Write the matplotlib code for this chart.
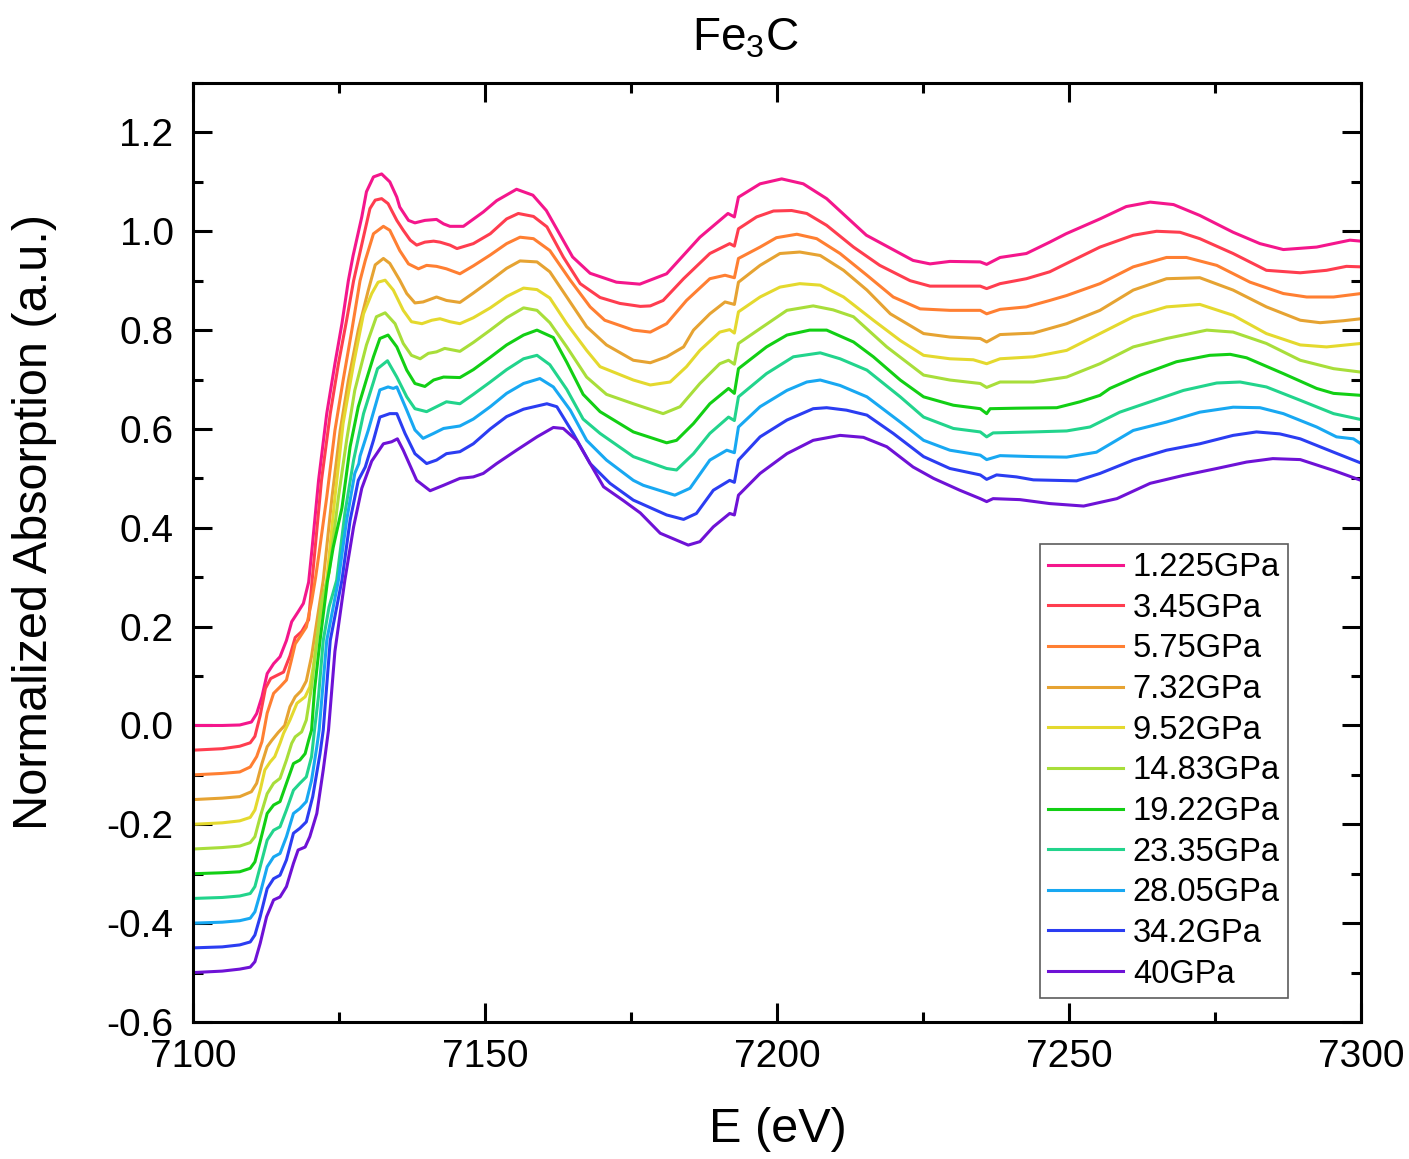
import matplotlib
matplotlib.use("Agg")
import matplotlib.pyplot as plt
from matplotlib.ticker import MultipleLocator

plt.rcParams['font.family'] = ['Liberation Sans', 'DejaVu Sans']
plt.rcParams['axes.unicode_minus'] = False
plt.rcParams['mathtext.fontset'] = 'custom'
plt.rcParams['mathtext.rm'] = 'Liberation Sans'
plt.rcParams['mathtext.it'] = 'Liberation Sans'
plt.rcParams['mathtext.default'] = 'regular'

labels = ["1.225GPa", "3.45GPa", "5.75GPa", "7.32GPa", "9.52GPa", "14.83GPa",
          "19.22GPa", "23.35GPa", "28.05GPa", "34.2GPa", "40GPa"]
colors = ["#F4168C", "#FF3D4F", "#FF7F32", "#E6A332", "#E4D92E", "#A8DE3A",
          "#12CF14", "#22D48C", "#18A8F2", "#2B3DF2", "#6E12D6"]

E_1225 = [7100, 7105, 7108, 7110.0, 7110.9, 7111.8, 7112.7, 7113.8, 7114.9, 7116.0, 7116.9, 7118.0, 7118.9, 7119.8, 7120.4,
          7121.5, 7122.9, 7124.3, 7125.5, 7126.6, 7127.4, 7128.9, 7129.7, 7130.9, 7132.3, 7133.7, 7134.9, 7135.4, 7136.9,
          7138.0, 7139.7, 7141.7, 7142.9, 7144.0, 7146.3, 7149.7, 7152.0, 7155.4, 7158.2, 7160.5, 7165.0, 7168.0, 7172.5,
          7176.5, 7181.1, 7186.8, 7191.6, 7192.7, 7193.4, 7197.1, 7200.8, 7204.5, 7208.5, 7215.3, 7223.3, 7226.2, 7229.6,
          7234.8, 7235.9, 7238.2, 7242.7, 7246.7, 7249.5, 7255.3, 7259.8, 7263.9, 7267.9, 7272.4, 7278.1, 7282.7, 7286.7,
          7292.4, 7298.1, 7300]
A_1225 = [0.0, 0.0, 0.001, 0.007, 0.024, 0.058, 0.105, 0.125, 0.139, 0.172, 0.21, 0.23, 0.247, 0.29, 0.36,
          0.496, 0.631, 0.732, 0.813, 0.90, 0.95, 1.029, 1.08, 1.11, 1.116, 1.10, 1.069, 1.049, 1.022,
          1.017, 1.022, 1.024, 1.015, 1.01, 1.010, 1.039, 1.062, 1.085, 1.073, 1.042, 0.948, 0.915, 0.897,
          0.893, 0.914, 0.988, 1.036, 1.029, 1.069, 1.096, 1.106, 1.096, 1.066, 0.992, 0.941, 0.934, 0.939,
          0.938, 0.933, 0.947, 0.955, 0.978, 0.995, 1.025, 1.050, 1.059, 1.054, 1.032, 0.998, 0.975, 0.963,
          0.968, 0.982, 0.980]

E_345 = [7100, 7105, 7108, 7109.8, 7110.6, 7111.5, 7112.4, 7113.3, 7114.3, 7115.5, 7116.6, 7117.5, 7118.6, 7119.8, 7120.4,
         7122.0, 7123.5, 7124.9, 7126.3, 7127.5, 7129.2, 7130.3, 7131.2, 7132.3, 7133.4, 7134.9, 7136.0, 7137.2, 7138.3,
         7139.7, 7141.2, 7142.3, 7144.0, 7145.2, 7148.0, 7150.9, 7153.7, 7155.7, 7158.3, 7160.6, 7163.4, 7166.3, 7169.7,
         7173.1, 7176.6, 7178.3, 7180.5, 7184.0, 7188.5, 7191.9, 7192.7, 7193.4, 7196.5, 7199.4, 7202.5, 7205.1, 7208.5,
         7213.1, 7217.6, 7222.8, 7226.2, 7229.6, 7234.8, 7235.9, 7238.2, 7242.7, 7246.7, 7249.6, 7255.3, 7261.0, 7265.0,
         7269.0, 7272.4, 7278.1, 7283.8, 7289.6, 7294.1, 7297.5, 7300]
A_345 = [-0.05, -0.047, -0.042, -0.035, -0.022, 0.02, 0.075, 0.095, 0.101, 0.108, 0.141, 0.178, 0.19, 0.214, 0.294,
         0.496, 0.631, 0.732, 0.82, 0.90, 0.989, 1.046, 1.063, 1.066, 1.056, 1.022, 1.002, 0.982, 0.972,
         0.978, 0.98, 0.978, 0.972, 0.965, 0.975, 0.995, 1.025, 1.036, 1.030, 1.009, 0.948, 0.894, 0.866,
         0.854, 0.848, 0.849, 0.860, 0.904, 0.955, 0.975, 0.97, 1.005, 1.029, 1.041, 1.042, 1.036, 1.012,
         0.968, 0.931, 0.9, 0.889, 0.889, 0.889, 0.884, 0.894, 0.904, 0.918, 0.935, 0.968, 0.992, 1.0,
         0.998, 0.985, 0.955, 0.921, 0.916, 0.921, 0.929, 0.928]

E_575 = [7100, 7105, 7108, 7109.8, 7110.9, 7111.8, 7112.7, 7113.8, 7114.9, 7116.0, 7116.8, 7117.5, 7118.3, 7119.4, 7120.3,
         7121.0, 7121.6, 7122.9, 7124.3, 7125.7, 7127.2, 7128.6, 7129.5, 7130.9, 7132.6, 7133.7, 7135.4, 7136.9, 7138.6,
         7140.0, 7141.7, 7143.4, 7145.7, 7148.0, 7150.9, 7153.7, 7156.0, 7158.3, 7161.1, 7164.6, 7168.0, 7170.5, 7175.4,
         7178.3, 7181.1, 7184.5, 7188.5, 7191.1, 7192.7, 7193.4, 7197.1, 7199.9, 7203.4, 7206.8, 7210.8, 7215.4, 7219.9,
         7224.5, 7229.6, 7234.8, 7235.9, 7238.2, 7242.7, 7246.7, 7249.6, 7255.3, 7261.0, 7266.7, 7270.1, 7275.3, 7281.0,
         7286.7, 7290.7, 7295.3, 7300]
A_575 = [-0.10, -0.097, -0.094, -0.084, -0.063, -0.033, 0.025, 0.065, 0.078, 0.092, 0.13, 0.165, 0.179, 0.199, 0.25,
         0.30, 0.35, 0.462, 0.597, 0.698, 0.8, 0.90, 0.941, 0.995, 1.01, 1.002, 0.961, 0.934, 0.924,
         0.931, 0.929, 0.924, 0.914, 0.93, 0.952, 0.975, 0.988, 0.985, 0.961, 0.901, 0.847, 0.82, 0.8,
         0.796, 0.813, 0.86, 0.904, 0.911, 0.906, 0.945, 0.968, 0.987, 0.994, 0.985, 0.955, 0.911, 0.867,
         0.843, 0.84, 0.84, 0.833, 0.842, 0.847, 0.86, 0.87, 0.894, 0.928, 0.947, 0.947, 0.931, 0.897,
         0.874, 0.867, 0.867, 0.874]

E_732 = [7100, 7105, 7108, 7110.0, 7110.9, 7111.8, 7112.7, 7113.5, 7114.6, 7115.7, 7116.6, 7117.5, 7118.5, 7119.4, 7120.3,
         7121.2, 7122.3, 7123.8, 7125.2, 7126.6, 7128.3, 7130.0, 7131.2, 7132.6, 7133.7, 7135.4, 7136.6, 7138.0, 7139.4,
         7141.7, 7143.4, 7145.7, 7148.0, 7150.9, 7153.7, 7156.0, 7158.9, 7161.1, 7164.0, 7167.4, 7170.8, 7175.4, 7178.3,
         7181.1, 7184.0, 7185.7, 7188.5, 7191.1, 7192.7, 7193.4, 7197.1, 7200.5, 7203.9, 7207.4, 7211.4, 7215.4, 7219.4,
         7225.1, 7229.6, 7234.8, 7235.9, 7238.2, 7243.9, 7249.6, 7255.3, 7261.0, 7266.7, 7272.4, 7278.1, 7283.8, 7289.6,
         7293.0, 7297.0, 7300]
A_732 = [-0.15, -0.147, -0.144, -0.134, -0.117, -0.077, -0.043, -0.030, -0.014, 0.0, 0.038, 0.058, 0.07, 0.09, 0.14,
         0.21, 0.294, 0.462, 0.597, 0.698, 0.8, 0.88, 0.932, 0.945, 0.935, 0.901, 0.874, 0.855, 0.857,
         0.867, 0.860, 0.856, 0.875, 0.9, 0.925, 0.94, 0.938, 0.918, 0.867, 0.807, 0.770, 0.739, 0.734,
         0.746, 0.766, 0.8, 0.833, 0.857, 0.852, 0.897, 0.931, 0.955, 0.958, 0.951, 0.921, 0.881, 0.833,
         0.793, 0.786, 0.783, 0.776, 0.791, 0.794, 0.813, 0.84, 0.881, 0.904, 0.906, 0.881, 0.847, 0.82,
         0.815, 0.819, 0.823]

E_952 = [7100, 7105, 7108, 7109.8, 7110.6, 7111.5, 7112.3, 7113.2, 7114.0, 7114.9, 7115.5, 7116.6, 7117.8, 7119.2, 7120.0,
         7120.6, 7121.5, 7122.9, 7124.3, 7125.7, 7127.5, 7129.2, 7130.6, 7131.7, 7132.9, 7134.3, 7136.0, 7137.4, 7139.2,
         7140.9, 7142.3, 7144.0, 7145.7, 7148.0, 7150.9, 7153.7, 7156.6, 7158.9, 7161.1, 7164.0, 7167.4, 7169.7, 7175.4,
         7178.3, 7181.7, 7184.5, 7186.8, 7190.2, 7191.9, 7192.7, 7193.4, 7197.1, 7200.5, 7203.9, 7207.4, 7211.4, 7216.5,
         7221.1, 7225.1, 7229.6, 7233.6, 7235.9, 7238.2, 7243.9, 7249.6, 7255.3, 7261.0, 7266.7, 7272.4, 7278.1, 7283.8,
         7289.6, 7294.1, 7300]
A_952 = [-0.20, -0.197, -0.193, -0.186, -0.171, -0.131, -0.09, -0.074, -0.063, -0.036, -0.016, 0.011, 0.045, 0.058, 0.078,
         0.12, 0.2, 0.294, 0.462, 0.611, 0.732, 0.833, 0.874, 0.897, 0.901, 0.881, 0.84, 0.817, 0.813,
         0.82, 0.823, 0.817, 0.813, 0.825, 0.845, 0.868, 0.885, 0.882, 0.865, 0.813, 0.759, 0.726, 0.699,
         0.689, 0.695, 0.726, 0.759, 0.796, 0.801, 0.794, 0.837, 0.867, 0.887, 0.894, 0.891, 0.867, 0.82,
         0.779, 0.749, 0.742, 0.74, 0.732, 0.742, 0.746, 0.759, 0.793, 0.827, 0.847, 0.852, 0.83, 0.793,
         0.77, 0.766, 0.773]

E_1483 = [7100, 7105, 7108, 7109.8, 7110.6, 7111.5, 7112.7, 7113.8, 7114.9, 7116.0, 7116.9, 7117.5, 7118.6, 7119.4, 7120.3,
          7121.2, 7122.0, 7123.3, 7124.9, 7126.3, 7127.7, 7129.7, 7131.4, 7132.9, 7134.6, 7136.0, 7137.4, 7138.9, 7140.3,
          7141.7, 7143.1, 7145.7, 7148.0, 7150.9, 7153.7, 7156.6, 7158.9, 7161.1, 7164.0, 7167.4, 7170.8, 7175.4, 7180.5,
          7183.4, 7186.8, 7190.2, 7191.7, 7192.7, 7193.4, 7197.1, 7201.7, 7206.2, 7209.6, 7213.1, 7218.8, 7225.1, 7229.6,
          7234.8, 7235.9, 7238.2, 7243.9, 7249.6, 7255.3, 7261.0, 7266.7, 7273.6, 7278.1, 7283.8, 7289.6, 7295.3, 7300]
A_1483 = [-0.25, -0.247, -0.244, -0.237, -0.225, -0.185, -0.138, -0.117, -0.107, -0.07, -0.036, -0.023, -0.013, 0.011, 0.078,
          0.172, 0.25, 0.31, 0.462, 0.577, 0.678, 0.770, 0.827, 0.835, 0.813, 0.773, 0.749, 0.742, 0.753,
          0.756, 0.763, 0.757, 0.775, 0.80, 0.825, 0.845, 0.840, 0.815, 0.766, 0.705, 0.67, 0.651, 0.631,
          0.645, 0.692, 0.732, 0.739, 0.731, 0.773, 0.803, 0.84, 0.849, 0.841, 0.827, 0.766, 0.709, 0.699,
          0.692, 0.684, 0.695, 0.695, 0.705, 0.732, 0.766, 0.783, 0.8, 0.796, 0.773, 0.739, 0.722, 0.715]

E_1922 = [7100, 7105, 7108, 7109.8, 7110.6, 7111.5, 7112.7, 7113.8, 7114.9, 7116.0, 7117.2, 7118.3, 7119.2, 7119.8, 7120.3,
          7120.8, 7121.75, 7123.0, 7124.0, 7125.5, 7126.9, 7128.3, 7129.7, 7130.9, 7132.0, 7133.4, 7134.9, 7136.6, 7138.0,
          7139.7, 7141.2, 7142.9, 7145.7, 7148.0, 7150.9, 7153.7, 7156.6, 7158.9, 7161.7, 7164.0, 7166.8, 7169.7, 7175.4,
          7181.1, 7182.8, 7185.7, 7188.5, 7191.7, 7192.7, 7193.4, 7198.2, 7201.7, 7205.6, 7208.5, 7213.1, 7216.5, 7221.1,
          7225.1, 7230.2, 7234.8, 7235.9, 7236.5, 7241.0, 7247.9, 7251.9, 7255.3, 7257.0, 7262.2, 7268.4, 7274.1, 7277.6,
          7280.4, 7286.7, 7292.4, 7295.3, 7300]
A_1922 = [-0.30, -0.298, -0.296, -0.289, -0.276, -0.235, -0.178, -0.161, -0.154, -0.117, -0.077, -0.07, -0.057, -0.03, -0.0095,
          0.071, 0.172, 0.29, 0.36, 0.44, 0.564, 0.645, 0.70, 0.746, 0.783, 0.79, 0.766, 0.719, 0.692,
          0.686, 0.699, 0.705, 0.704, 0.72, 0.745, 0.77, 0.79, 0.80, 0.785, 0.735, 0.67, 0.635, 0.594,
          0.572, 0.577, 0.611, 0.651, 0.682, 0.672, 0.722, 0.766, 0.79, 0.8, 0.8, 0.776, 0.746, 0.699,
          0.665, 0.648, 0.641, 0.631, 0.641, 0.642, 0.643, 0.655, 0.668, 0.682, 0.709, 0.736, 0.749, 0.751,
          0.744, 0.712, 0.682, 0.672, 0.668]

E_2335 = [7100, 7105, 7108, 7109.8, 7110.6, 7111.5, 7112.7, 7113.8, 7114.9, 7116.0, 7117.2, 7118.3, 7119.4, 7120.3, 7120.8,
          7121.5, 7122.3, 7123.3, 7124.6, 7126.0, 7127.5, 7129.2, 7130.9, 7131.6, 7133.3, 7134.9, 7136.6, 7138.0, 7140.0,
          7141.7, 7143.4, 7145.7, 7148.0, 7150.9, 7153.7, 7156.6, 7158.9, 7161.1, 7164.0, 7166.8, 7169.7, 7175.4, 7181.1,
          7182.8, 7185.7, 7188.5, 7191.7, 7192.7, 7193.4, 7198.2, 7202.8, 7207.4, 7210.8, 7215.4, 7221.1, 7225.1, 7230.2,
          7234.8, 7235.9, 7237.0, 7243.9, 7249.6, 7253.6, 7258.7, 7263.9, 7269.6, 7275.3, 7279.3, 7283.8, 7289.6, 7295.3,
          7300]
A_2335 = [-0.35, -0.348, -0.345, -0.340, -0.326, -0.286, -0.232, -0.212, -0.205, -0.171, -0.131, -0.117, -0.104, -0.063, -0.0095,
          0.06, 0.172, 0.24, 0.294, 0.429, 0.537, 0.631, 0.695, 0.722, 0.738, 0.705, 0.665, 0.641, 0.635,
          0.645, 0.655, 0.651, 0.67, 0.695, 0.72, 0.742, 0.749, 0.73, 0.68, 0.62, 0.591, 0.544, 0.52,
          0.517, 0.55, 0.591, 0.624, 0.617, 0.665, 0.712, 0.746, 0.754, 0.742, 0.719, 0.665, 0.624, 0.601,
          0.594, 0.584, 0.592, 0.594, 0.596, 0.604, 0.634, 0.655, 0.678, 0.693, 0.695, 0.685, 0.658, 0.631,
          0.619]

E_2805 = [7100, 7105, 7108, 7109.8, 7110.6, 7111.5, 7112.7, 7113.8, 7114.9, 7116.0, 7117.2, 7118.3, 7119.4, 7120.3, 7121.2,
          7121.6, 7122.9, 7124.9, 7126.3, 7127.7, 7128.4, 7128.6, 7130.0, 7132.0, 7133.4, 7134.3, 7134.9, 7136.6, 7138.0,
          7139.4, 7141.2, 7142.9, 7145.7, 7148.0, 7150.9, 7153.7, 7156.6, 7159.4, 7161.7, 7164.6, 7167.4, 7170.8, 7175.4,
          7177.1, 7182.5, 7185.1, 7188.5, 7191.4, 7192.7, 7193.4, 7197.1, 7201.7, 7205.1, 7207.4, 7210.8, 7215.4, 7221.1,
          7225.1, 7229.6, 7234.8, 7235.9, 7238.2, 7243.9, 7249.6, 7254.7, 7261.0, 7266.7, 7272.4, 7278.1, 7282.7, 7286.7,
          7292.4, 7295.8, 7298.7, 7300]
A_2805 = [-0.40, -0.398, -0.395, -0.39, -0.377, -0.34, -0.286, -0.266, -0.259, -0.225, -0.178, -0.168, -0.154, -0.111, -0.043,
          -0.0095, 0.172, 0.294, 0.415, 0.51, 0.53, 0.545, 0.597, 0.679, 0.685, 0.682, 0.685, 0.638, 0.598,
          0.581, 0.591, 0.601, 0.606, 0.62, 0.645, 0.672, 0.692, 0.702, 0.685, 0.638, 0.577, 0.537, 0.496,
          0.486, 0.466, 0.48, 0.537, 0.557, 0.552, 0.604, 0.645, 0.678, 0.695, 0.699, 0.688, 0.665, 0.614,
          0.577, 0.557, 0.547, 0.538, 0.546, 0.544, 0.543, 0.553, 0.597, 0.614, 0.634, 0.644, 0.643, 0.631,
          0.604, 0.584, 0.58, 0.57]

E_342 = [7100, 7105, 7108, 7109.8, 7110.6, 7111.5, 7112.7, 7113.8, 7114.9, 7116.0, 7117.2, 7118.3, 7119.4, 7120.5, 7121.75,
         7122.3, 7123.5, 7125.5, 7126.9, 7128.3, 7129.5, 7130.9, 7132.0, 7133.7, 7134.9, 7136.3, 7138.0, 7140.0, 7141.7,
         7143.4, 7145.7, 7148.0, 7150.9, 7153.7, 7156.6, 7160.6, 7162.3, 7165.1, 7168.0, 7171.4, 7175.4, 7181.1, 7184.0,
         7186.2, 7189.1, 7191.9, 7192.7, 7193.4, 7197.1, 7201.7, 7206.2, 7208.5, 7211.9, 7215.4, 7219.9, 7225.1, 7229.6,
         7234.8, 7235.9, 7237.6, 7241.0, 7243.9, 7251.3, 7255.3, 7261.0, 7266.7, 7272.4, 7278.1, 7282.1, 7286.1, 7289.6,
         7295.3, 7300]
A_342 = [-0.45, -0.448, -0.444, -0.438, -0.424, -0.387, -0.33, -0.31, -0.303, -0.272, -0.218, -0.208, -0.195, -0.144, -0.057,
         -0.0095, 0.172, 0.294, 0.415, 0.496, 0.523, 0.577, 0.624, 0.631, 0.631, 0.591, 0.55, 0.53, 0.537,
         0.55, 0.554, 0.57, 0.6, 0.625, 0.64, 0.651, 0.645, 0.591, 0.53, 0.49, 0.456, 0.426, 0.417,
         0.429, 0.476, 0.496, 0.492, 0.537, 0.584, 0.618, 0.641, 0.643, 0.638, 0.628, 0.591, 0.544, 0.52,
         0.507, 0.498, 0.507, 0.503, 0.497, 0.495, 0.51, 0.537, 0.557, 0.57, 0.587, 0.594, 0.59, 0.58,
         0.553, 0.531]

E_40 = [7100, 7105, 7108, 7109.8, 7110.6, 7111.5, 7112.6, 7113.8, 7114.9, 7116.0, 7117.2, 7118.0, 7119.2, 7120.0, 7121.2,
        7122.3, 7123.2, 7124.3, 7126.0, 7127.5, 7128.9, 7130.6, 7132.6, 7134.0, 7135.0, 7136.0, 7138.3, 7140.6, 7142.9,
        7145.7, 7148.0, 7149.7, 7152.0, 7155.4, 7158.9, 7161.7, 7163.4, 7165.7, 7168.0, 7170.3, 7173.7, 7176.6, 7180.0,
        7184.8, 7186.8, 7189.1, 7191.9, 7192.7, 7193.4, 7197.1, 7201.7, 7206.2, 7210.8, 7214.8, 7218.8, 7223.3, 7226.8,
        7231.3, 7234.8, 7235.9, 7237.0, 7241.6, 7246.7, 7252.5, 7258.2, 7263.9, 7269.6, 7275.3, 7280.4, 7284.9, 7289.6,
        7295.3, 7300]
A_40 = [-0.50, -0.497, -0.493, -0.489, -0.478, -0.441, -0.387, -0.353, -0.347, -0.326, -0.279, -0.252, -0.246, -0.225, -0.178,
        -0.090, -0.0095, 0.15, 0.294, 0.402, 0.48, 0.535, 0.570, 0.574, 0.580, 0.557, 0.496, 0.475, 0.486,
        0.5, 0.503, 0.51, 0.53, 0.557, 0.584, 0.603, 0.601, 0.577, 0.53, 0.483, 0.455, 0.43, 0.389,
        0.365, 0.372, 0.402, 0.429, 0.426, 0.466, 0.51, 0.55, 0.577, 0.587, 0.583, 0.564, 0.523, 0.5,
        0.476, 0.459, 0.453, 0.459, 0.457, 0.449, 0.444, 0.459, 0.49, 0.506, 0.52, 0.533, 0.540, 0.538,
        0.516, 0.496]

energies = [E_1225, E_345, E_575, E_732, E_952, E_1483, E_1922, E_2335, E_2805, E_342, E_40]
absorb = [A_1225, A_345, A_575, A_732, A_952, A_1483, A_1922, A_2335, A_2805, A_342, A_40]

fig = plt.figure(figsize=(14.09, 11.59), dpi=100)
ax = fig.add_axes([0.13698, 0.11820, 0.82896, 0.81018])

for e, a, c, lab in zip(energies, absorb, colors, labels):
    ax.plot(e, a, color=c, lw=2.2, label=lab, solid_joinstyle='round')

ax.set_xlim(7100, 7300)
ax.set_ylim(-0.6, 1.3)
ax.xaxis.set_major_locator(MultipleLocator(50))
ax.xaxis.set_minor_locator(MultipleLocator(25))
ax.yaxis.set_major_locator(MultipleLocator(0.2))
ax.yaxis.set_minor_locator(MultipleLocator(0.1))
ax.yaxis.set_major_formatter(plt.FuncFormatter(lambda v, p: f"{v:.1f}"))

ax.tick_params(which='both', direction='in', top=True, right=True, width=2.2, labelsize=28)
ax.tick_params(which='major', length=14, pad=14)
ax.tick_params(which='minor', length=7)
ax.tick_params(axis='x', which='major', pad=12)
for s in ax.spines.values():
    s.set_linewidth(2.2)

fig.text(778 / 1409, 1 - 1130 / 1159, "E (eV)", fontsize=35, ha='center', va='center')
fig.text(35 / 1409, 1 - 522 / 1159, "Normalized Absorption (a.u.)", fontsize=35,
         rotation=90, ha='center', va='center')
fig.text(745 / 1409, 1 - 38 / 1159, r"Fe$_3$C", fontsize=33, ha='center', va='center')

leg = ax.legend(loc='upper left', bbox_to_anchor=(0.725, 0.509), borderaxespad=0, fontsize=23.5,
                frameon=True, fancybox=False, edgecolor='#333333', handlelength=2.3,
                labelspacing=0.295, handletextpad=0.3, borderpad=0.25)
leg.get_frame().set_linewidth(1.2)

fig.savefig("out.png", dpi=100)
